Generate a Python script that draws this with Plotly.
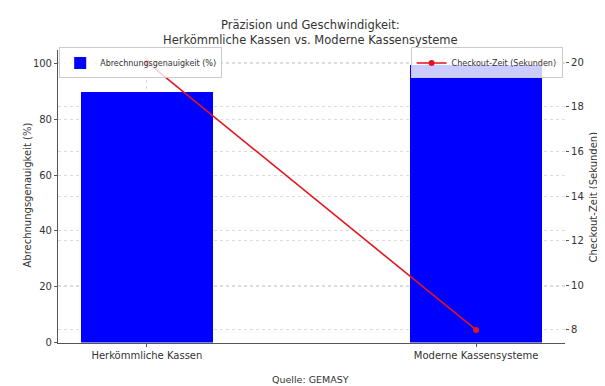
import plotly.graph_objects as go

categories = ["Herkömmliche Kassen", "Moderne Kassensysteme"]
accuracy = [90, 99.5]
checkout = [20, 8]
left_ticks = [0, 20, 40, 60, 80, 100]
right_ticks = [8, 10, 12, 14, 16, 18, 20]

xpos = list(range(len(categories)))
font = "DejaVu Sans"
W, H = 605, 386

fig = go.Figure()
fig.add_trace(go.Bar(
    x=xpos, y=accuracy, width=0.4, name="Abrechnungsgenauigkeit (%)",
    marker=dict(color="#0000ff", line=dict(width=0)), legend="legend", yaxis="y",
))
fig.add_trace(go.Scatter(
    x=xpos, y=checkout, mode="lines+markers", name="Checkout-Zeit (Sekunden)",
    line=dict(color="#e3141e", width=1.6), marker=dict(color="#e3141e", size=6),
    yaxis="y2", legend="legend2",
))

grid = dict(showgrid=True, gridcolor="#dcdcdc", griddash="dot", gridwidth=1)
tickfont = dict(size=10, color="#333333")
fig.update_layout(
    width=W, height=H,
    margin=dict(l=0, r=0, t=0, b=0),
    paper_bgcolor="white", plot_bgcolor="white",
    font=dict(family=font, size=10, color="#333333"),
    xaxis=dict(domain=[0.0826, 0.9207], range=[-0.27, 1.27], tickvals=xpos, ticktext=categories,
               tickfont=tickfont,
               showline=True, linecolor="#555555", linewidth=1, ticks="outside", ticklen=3,
               tickcolor="#555555", **grid, zeroline=False),
    yaxis=dict(domain=[0.1218, 0.891], range=[0, 105], tickvals=left_ticks, tickfont=tickfont,
               showline=True, linecolor="#555555", linewidth=1, ticks="outside", ticklen=3,
               tickcolor="#555555", **grid, zeroline=False),
    yaxis2=dict(overlaying="y", side="right", range=[7.43, 20.57], tickvals=right_ticks,
                tickfont=tickfont,
                showline=False, ticks="outside", ticklen=3, tickcolor="#555555",
                **grid, zeroline=False),
    bargap=0,
    legend=dict(x=0.0826 + 0.002, y=1 - 40 / H, xanchor="left", yanchor="top",
                bgcolor="rgba(255,255,255,0.8)", bordercolor="#cccccc", borderwidth=1,
                font=dict(size=8), itemwidth=30, tracegroupgap=0),
    legend2=dict(x=0.9207 - 0.004, y=1 - 40 / H, xanchor="right", yanchor="top",
                 bgcolor="rgba(255,255,255,0.8)", bordercolor="#cccccc", borderwidth=1,
                 font=dict(size=8), itemwidth=30, tracegroupgap=0),
    showlegend=True,
)

def ann(text, x, y, size, angle=0):
    fig.add_annotation(text=text, x=x / W, y=1 - y / H, xref="paper", yref="paper",
                       showarrow=False, textangle=angle, xanchor="center", yanchor="middle",
                       font=dict(size=size, color="#333333"))

ann("Präzision und Geschwindigkeit:<br>Herkömmliche Kassen vs. Moderne Kassensysteme", 302, 25, 11.5)
ann("Abrechnungsgenauigkeit (%)", 20, 190, 10, -90)
ann("Checkout-Zeit (Sekunden)", 586, 192, 10, -90)
ann("Quelle: GEMASY", 302, 376, 9.5)

fig.write_html("out.html")
